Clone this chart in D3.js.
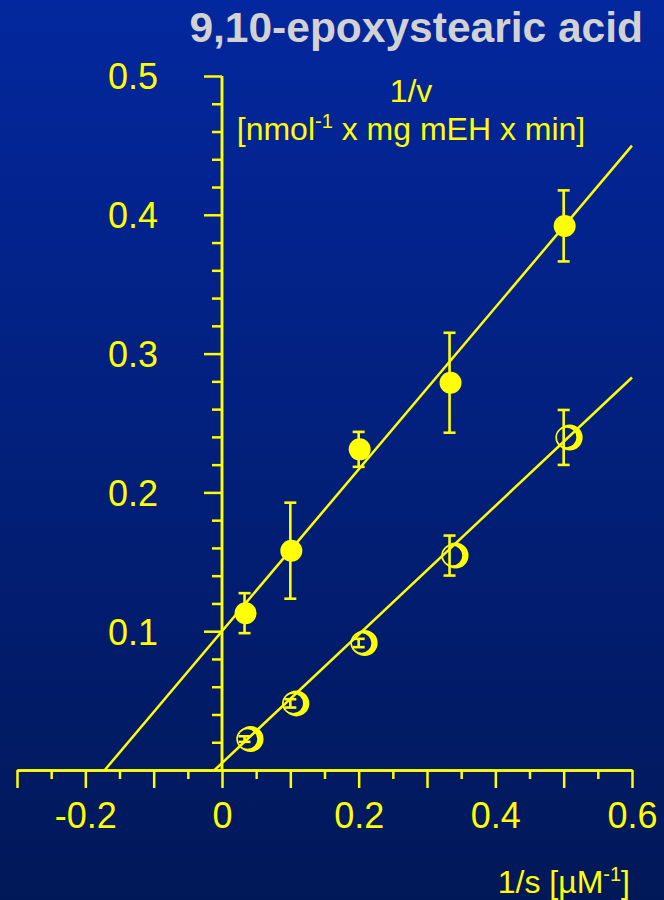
<!DOCTYPE html>
<html>
<head>
<meta charset="utf-8">
<script src="https://cdn.jsdelivr.net/npm/d3@7"></script>
<style>
  html, body { margin: 0; padding: 0; background: #011858; }
  svg { display: block; font-family: "Liberation Sans", Arial, sans-serif; }
</style>
</head>
<body>
<div id="chart"></div>
<script>
// 1/s values (µM^-1)
var invS = [0.033, 0.1, 0.2, 0.333, 0.5];
// filled circles: 1/v and error
var filledY = [0.113, 0.158, 0.231, 0.279, 0.392];
var filledErr = [0.0144, 0.0346, 0.0126, 0.036, 0.0256];
// open circles: 1/v and error
var openY = [0.0223, 0.048, 0.0915, 0.1545, 0.2396];
var openErr = [0.002, 0.003, 0.003, 0.0144, 0.0198];
// regression lines (slope, intercept)
var filledFit = {slope: 0.583, intercept: 0.1};
var openFit = {slope: 0.463, intercept: 0.005};

var xMajor = [-0.3, -0.2, -0.1, 0, 0.1, 0.2, 0.3, 0.4, 0.5, 0.6];
var xMinor = [-0.25, -0.15, -0.05, 0.05, 0.15, 0.25, 0.35, 0.45, 0.55];
var xLabels = [-0.2, 0, 0.2, 0.4, 0.6];
var yMajor = [0.1, 0.2, 0.3, 0.4, 0.5];
var yMinor = [0.02, 0.04, 0.06, 0.08, 0.12, 0.14, 0.16, 0.18, 0.22, 0.24, 0.26, 0.28,
              0.32, 0.34, 0.36, 0.38, 0.42, 0.44, 0.46, 0.48];

var W = 664, H = 900;
var yellow = "#ffff00";

var svg = d3.select("#chart").append("svg")
  .attr("width", W)
  .attr("height", H);

var defs = svg.append("defs");
var grad = defs.append("linearGradient")
  .attr("id", "bg")
  .attr("x1", 0).attr("y1", 0).attr("x2", 0).attr("y2", 1);
grad.append("stop").attr("offset", "0%").attr("stop-color", "#03279e");
grad.append("stop").attr("offset", "100%").attr("stop-color", "#011858");

svg.append("rect")
  .attr("width", W).attr("height", H)
  .attr("fill", "url(#bg)");

var x = d3.scaleLinear().domain([-0.3, 0.6]).range([17, 632]);
var y = d3.scaleLinear().domain([0, 0.5]).range([770, 76]);

function fmt(d) {
  return d === 0 ? "0" : String(+d.toFixed(1));
}

// x axis
var xAxisG = svg.append("g").attr("transform", "translate(0," + y(0) + ")");
xAxisG.append("g")
  .call(d3.axisBottom(x).tickValues(xMinor).tickSize(9).tickFormat("").tickSizeOuter(0));
xAxisG.append("g")
  .call(d3.axisBottom(x).tickValues(xMajor).tickSize(18).tickSizeOuter(0)
    .tickFormat(function(d) { return xLabels.some(function(v) { return Math.abs(v - d) < 1e-9; }) ? fmt(d) : ""; }));
xAxisG.selectAll("text")
  .attr("y", 58)
  .attr("dy", 0)
  .style("font-size", "36px")
  .attr("fill", yellow);

// y axis
var yAxisG = svg.append("g").attr("transform", "translate(" + x(0) + ",0)");
yAxisG.append("g")
  .call(d3.axisLeft(y).tickValues(yMinor).tickSize(10).tickFormat("").tickSizeOuter(0));
yAxisG.append("g")
  .call(d3.axisLeft(y).tickValues(yMajor).tickSize(18).tickSizeOuter(0).tickPadding(46).tickFormat(fmt));
yAxisG.selectAll("text")
  .style("font-size", "36px")
  .attr("dy", "0.36em")
  .attr("fill", yellow);

svg.selectAll(".domain, .tick line")
  .attr("stroke", yellow)
  .attr("stroke-width", 2.5);
// y axis line spans only the data range
yAxisG.selectAll(".domain").attr("d", "M0," + y(0.5) + "V" + (y(0) + 2));

// regression lines
function fitLine(fit) {
  var x0 = -fit.intercept / fit.slope, x1 = 0.6;
  return [[x0, 0], [x1, fit.intercept + fit.slope * x1]];
}
var line = d3.line().x(function(d) { return x(d[0]); }).y(function(d) { return y(d[1]); });
[filledFit, openFit].forEach(function(f) {
  svg.append("path")
    .attr("d", line(fitLine(f)))
    .attr("fill", "none")
    .attr("stroke", yellow)
    .attr("stroke-width", 2.5);
});

// error bars
function errorBars(ys, errs) {
  var data = invS.map(function(s, i) { return {x: s, y: ys[i], e: errs[i]}; });
  var g = svg.append("g").attr("stroke", yellow).attr("stroke-width", 2.6);
  g.selectAll(".eb").data(data).enter().append("line")
    .attr("x1", function(d) { return x(d.x); })
    .attr("x2", function(d) { return x(d.x); })
    .attr("y1", function(d) { return y(d.y - d.e); })
    .attr("y2", function(d) { return y(d.y + d.e); });
  g.selectAll(".capt").data(data).enter().append("line")
    .attr("x1", function(d) { return x(d.x) - 6; })
    .attr("x2", function(d) { return x(d.x) + 6; })
    .attr("y1", function(d) { return y(d.y + d.e); })
    .attr("y2", function(d) { return y(d.y + d.e); });
  g.selectAll(".capb").data(data).enter().append("line")
    .attr("x1", function(d) { return x(d.x) - 6; })
    .attr("x2", function(d) { return x(d.x) + 6; })
    .attr("y1", function(d) { return y(d.y - d.e); })
    .attr("y2", function(d) { return y(d.y - d.e); });
}
errorBars(filledY, filledErr);
errorBars(openY, openErr);

// filled markers
svg.append("g").selectAll("circle")
  .data(invS.map(function(s, i) { return [s, filledY[i]]; }))
  .enter().append("circle")
  .attr("cx", function(d) { return x(d[0]) + 1; })
  .attr("cy", function(d) { return y(d[1]); })
  .attr("r", 11)
  .attr("fill", yellow);

// open markers (outlined circle with heavy right rim)
function crescent(cx, cy) {
  var p = d3.path();
  p.moveTo(cx + 6 + 13, cy);
  p.arc(cx + 6, cy, 13, 0, 2 * Math.PI);
  p.moveTo(cx + 3 + 10.5, cy);
  p.arc(cx + 3, cy, 10.5, 0, 2 * Math.PI);
  return p.toString();
}
var openG = svg.append("g");
var openData = invS.map(function(s, i) { return [s, openY[i]]; });
openG.selectAll(".cr").data(openData).enter().append("path")
  .attr("d", function(d) { return crescent(x(d[0]), y(d[1])); })
  .attr("fill", yellow)
  .attr("fill-rule", "evenodd");
openG.selectAll(".ring").data(openData).enter().append("circle")
  .attr("cx", function(d) { return x(d[0]) + 3; })
  .attr("cy", function(d) { return y(d[1]); })
  .attr("r", 10.5)
  .attr("fill", "none")
  .attr("stroke", yellow)
  .attr("stroke-width", 1.6);

// title
svg.append("text")
  .attr("x", 643).attr("y", 42)
  .attr("text-anchor", "end")
  .style("font-size", "42.5px")
  .style("font-weight", "bold")
  .attr("fill", "#d2d2d2")
  .text("9,10-epoxystearic acid");

// y axis title
svg.append("text")
  .attr("x", 411).attr("y", 102)
  .attr("text-anchor", "middle")
  .style("font-size", "32px")
  .attr("fill", yellow)
  .text("1/v");
var yl = svg.append("text")
  .attr("x", 411).attr("y", 140)
  .attr("text-anchor", "middle")
  .style("font-size", "32px")
  .attr("fill", yellow);
yl.append("tspan").text("[nmol");
yl.append("tspan").attr("dy", -12).style("font-size", "20px").text("-1");
yl.append("tspan").attr("dy", 12).text(" x mg mEH x min]");

// x axis title
var xl = svg.append("text")
  .attr("x", 630).attr("y", 893)
  .attr("text-anchor", "end")
  .style("font-size", "32px")
  .attr("fill", yellow);
xl.append("tspan").text("1/s [µM");
xl.append("tspan").attr("dy", -12).style("font-size", "20px").text("-1");
xl.append("tspan").attr("dy", 12).text("]");
</script>
</body>
</html>
